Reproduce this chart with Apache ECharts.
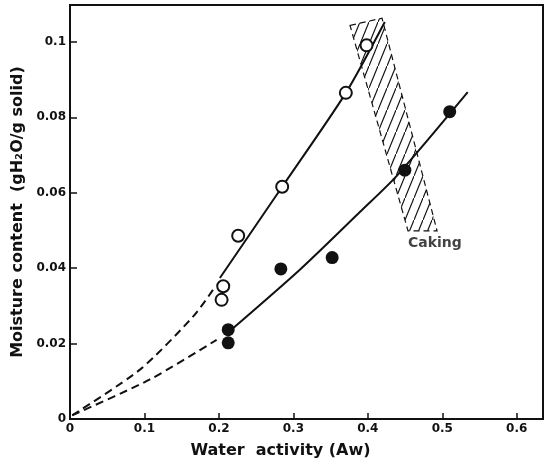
<!DOCTYPE html>
<html>
<head>
<meta charset="utf-8">
<script src="https://cdn.jsdelivr.net/npm/echarts@6/dist/echarts.min.js"></script>
<style>
html, body { margin: 0; padding: 0; background: #fff; }
#mychart { width: 547px; height: 464px; }
</style>
</head>
<body>
<div id="mychart"></div>
<script>
// tick labels
const xTickLabels = ['0', '0.1', '0.2', '0.3', '0.4', '0.5', '0.6']
const yTickLabels = ['0', '0.02', '0.04', '0.06', '0.08', '0.1']

// measured points [Aw, moisture]
const openPoints = [[0.2036, 0.0316], [0.2058, 0.0352], [0.2259, 0.0486], [0.285, 0.0616], [0.3705, 0.0865], [0.3983, 0.0991]]
const filledPoints = [[0.2125, 0.0202], [0.2125, 0.0237], [0.2832, 0.0398], [0.3521, 0.0428], [0.4497, 0.066], [0.51, 0.0815]]

// fitted curves
const openCurve = [[0.2013, 0.0374], [0.285, 0.0616], [0.3705, 0.0865], [0.4228, 0.1053]]
const openDashed = [[0.003, 0.001], [0.094, 0.0131], [0.1655, 0.0272], [0.193, 0.0345]]
const filledCurve = [[0.2103, 0.0226], [0.3087, 0.0396], [0.3893, 0.0549], [0.4389, 0.0645], [0.5342, 0.0867]]
const filledDashed = [[0.003, 0.001], [0.1074, 0.0105], [0.1969, 0.021]]

// caking zone (hatched band)
const cakingBand = [[0.3761, 0.1044], [0.4191, 0.1063], [0.493, 0.0499], [0.454, 0.0499]]
const cakingLabel = [[0.49, 0.0467]]

const ink = '#111'
const font = 'DejaVu Sans'

// hatch pattern
const hatch = document.createElement('canvas')
hatch.width = 9
hatch.height = 22
const hctx = hatch.getContext('2d')
hctx.strokeStyle = ink
hctx.lineWidth = 1.2
hctx.beginPath()
hctx.moveTo(0, 22)
hctx.lineTo(9, 0)
hctx.stroke()

const mychart = echarts.init(document.getElementById('mychart'))

function curve (data, dashed) {
  return {
    type: 'line',
    data: data,
    smooth: 0.25,
    showSymbol: false,
    silent: true,
    lineStyle: { color: ink, width: 2, type: dashed ? [8, 5] : 'solid' },
    z: 3
  }
}

mychart.setOption({
  backgroundColor: '#fff',
  animation: false,
  grid: {
    left: 70,
    right: 4,
    top: 5,
    bottom: 45,
    show: true,
    borderColor: ink,
    borderWidth: 2
  },
  xAxis: {
    type: 'value',
    min: 0,
    max: 0.6353,
    interval: 0.1,
    name: 'Water  activity (Aw)',
    nameLocation: 'middle',
    nameGap: 24,
    nameTextStyle: { color: ink, fontFamily: font, fontSize: 16, fontWeight: 'bold', padding: [0, 52, 0, 0] },
    splitLine: { show: false },
    axisLine: { lineStyle: { color: ink, width: 2 } },
    axisTick: { inside: true, length: 6, lineStyle: { color: ink, width: 1.5 } },
    axisLabel: {
      color: ink,
      fontFamily: font,
      fontSize: 12,
      fontWeight: 'bold',
      margin: 4,
      formatter: function (v) {
        const i = Math.round(v * 10)
        return Math.abs(v - i / 10) < 1e-6 && i < xTickLabels.length ? xTickLabels[i] : ''
      }
    }
  },
  yAxis: {
    type: 'value',
    min: 0,
    max: 0.1098,
    interval: 0.02,
    name: 'Moisture content  (gH₂O/g solid)',
    nameLocation: 'middle',
    nameGap: 36,
    nameTextStyle: { color: ink, fontFamily: font, fontSize: 16, fontWeight: 'bold' },
    splitLine: { show: false },
    axisLine: { lineStyle: { color: ink, width: 2 } },
    axisTick: { inside: true, length: 7, lineStyle: { color: ink, width: 1.5 } },
    axisLabel: {
      color: ink,
      fontFamily: font,
      fontSize: 12,
      fontWeight: 'bold',
      margin: 4,
      formatter: function (v) {
        const i = Math.round(v / 0.02)
        return Math.abs(v - i * 0.02) < 1e-6 && i < yTickLabels.length ? yTickLabels[i] : ''
      }
    }
  },
  series: [
    {
      // hatched caking band
      type: 'custom',
      silent: true,
      data: [0],
      z: 1,
      renderItem: function (params, api) {
        return {
          type: 'polygon',
          shape: { points: cakingBand.map(p => api.coord(p)) },
          style: {
            fill: { image: hatch, repeat: 'repeat' },
            stroke: ink,
            lineWidth: 1.2,
            lineDash: [6, 4]
          }
        }
      }
    },
    curve(openCurve, false),
    curve(openDashed, true),
    curve(filledCurve, false),
    curve(filledDashed, true),
    {
      type: 'scatter',
      data: openPoints,
      symbolSize: 12,
      itemStyle: { color: '#fff', borderColor: ink, borderWidth: 2, opacity: 1 },
      z: 5
    },
    {
      type: 'scatter',
      data: filledPoints,
      symbolSize: 13,
      itemStyle: { color: ink, opacity: 1 },
      z: 5
    },
    {
      type: 'scatter',
      data: cakingLabel,
      symbolSize: 0,
      silent: true,
      label: {
        show: true,
        position: 'inside',
        formatter: 'Caking',
        color: ink,
        fontFamily: font,
        fontSize: 14,
        fontWeight: 'bold'
      },
      z: 6
    }
  ]
})
</script>
</body>
</html>
